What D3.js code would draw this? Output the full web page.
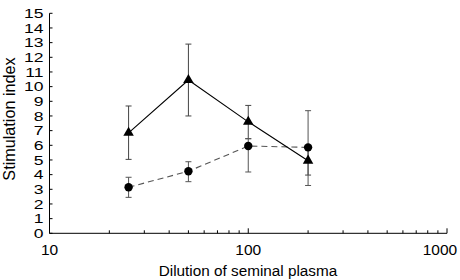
<!DOCTYPE html>
<html><head><meta charset="utf-8">
<script src="https://cdn.jsdelivr.net/npm/d3@7"></script>
<style>body{margin:0;background:#fff}svg{display:block}text{font-family:"Liberation Sans",Arial,sans-serif;fill:#000}</style>
</head><body>
<svg id="c" width="460" height="280"></svg>
<script>
const dilutions = [25, 50, 100, 200];
const triMean = [6.85, 10.45, 7.6, 4.95];
const triLow = [5.04, 8.0, 6.45, 3.97];
const triHigh = [8.68, 12.9, 8.72, 5.93];
const circMean = [3.14, 4.23, 5.95, 5.86];
const circLow = [2.45, 3.52, 4.18, 3.26];
const circHigh = [3.82, 4.88, 6.45, 8.36];
const xTickLabels = [10, 100, 1000];
const yTickValues = d3.range(0, 16);

const svg = d3.select("#c");
const x = d3.scaleLog().domain([10, 1000]).range([49.5, 447]);
const y = d3.scaleLinear().domain([0, 15]).range([233.3, 13.3]);

// axes
const gx = svg.append("g").attr("transform", `translate(0,${y(0)})`);
gx.append("line").attr("x1", x(10)).attr("x2", x(1000)).attr("stroke", "#000");
const minor = [];
for (const d of [10, 100]) for (let k = 2; k <= 9; k++) minor.push(d * k);
gx.selectAll(".mt").data(minor).join("line")
  .attr("x1", d => x(d)).attr("x2", d => x(d)).attr("y1", 0).attr("y2", -3).attr("stroke", "#000");
gx.selectAll(".Mt").data(xTickLabels).join("line")
  .attr("x1", d => x(d)).attr("x2", d => x(d)).attr("y1", 0).attr("y2", -5).attr("stroke", "#000");
gx.selectAll(".xl").data(xTickLabels).join("text")
  .attr("x", d => Math.min(x(d), 440)).attr("y", 21.5).attr("text-anchor", "middle")
  .attr("font-size", 15.5).text(d => d);

const gy = svg.append("g").attr("transform", `translate(${x(10)},0)`);
gy.append("line").attr("y1", y(0)).attr("y2", y(15)).attr("stroke", "#000");
gy.selectAll(".yt").data(yTickValues).join("line")
  .attr("x1", 0).attr("x2", 3).attr("y1", d => y(d)).attr("y2", d => y(d)).attr("stroke", "#000");
gy.selectAll(".yl").data(yTickValues).join("text")
  .attr("transform", d => `translate(-6,${y(d)}) scale(1.3,1)`)
  .attr("dy", "0.36em").attr("text-anchor", "end")
  .attr("font-size", 13.5).text(d => d);

svg.append("text").attr("x", 248).attr("y", 275.5).attr("text-anchor", "middle")
  .attr("font-size", 15.3).text("Dilution of seminal plasma");
svg.append("text").attr("transform", `translate(15,119) rotate(-90)`)
  .attr("text-anchor", "middle").attr("font-size", 16.2).text("Stimulation index");

function errBars(lo, hi, color) {
  const g = svg.append("g").attr("stroke", color).attr("fill", "none");
  dilutions.forEach((d, i) => {
    const cx = x(d);
    g.append("line").attr("x1", cx).attr("x2", cx).attr("y1", y(lo[i])).attr("y2", y(hi[i]));
    g.append("line").attr("x1", cx - 3).attr("x2", cx + 3).attr("y1", y(lo[i])).attr("y2", y(lo[i]));
    g.append("line").attr("x1", cx - 3).attr("x2", cx + 3).attr("y1", y(hi[i])).attr("y2", y(hi[i]));
  });
}
errBars(triLow, triHigh, "#444");
errBars(circLow, circHigh, "#555");

const line = d3.line().x((d, i) => x(dilutions[i])).y(d => y(d));
svg.append("path").attr("d", line(circMean)).attr("fill", "none").attr("stroke", "#555")
  .attr("stroke-width", 1.1).attr("stroke-dasharray", "6,4");
svg.append("path").attr("d", line(triMean)).attr("fill", "none").attr("stroke", "#000").attr("stroke-width", 1.1);

svg.selectAll(".c").data(circMean).join("circle")
  .attr("cx", (d, i) => x(dilutions[i])).attr("cy", d => y(d)).attr("r", 4.2).attr("fill", "#000");
const tri = d3.symbol().type(d3.symbolTriangle).size(48);
svg.selectAll(".t").data(triMean).join("path")
  .attr("d", tri).attr("transform", (d, i) => `translate(${x(dilutions[i])},${y(d)})`).attr("fill", "#000");
</script>
</body></html>
